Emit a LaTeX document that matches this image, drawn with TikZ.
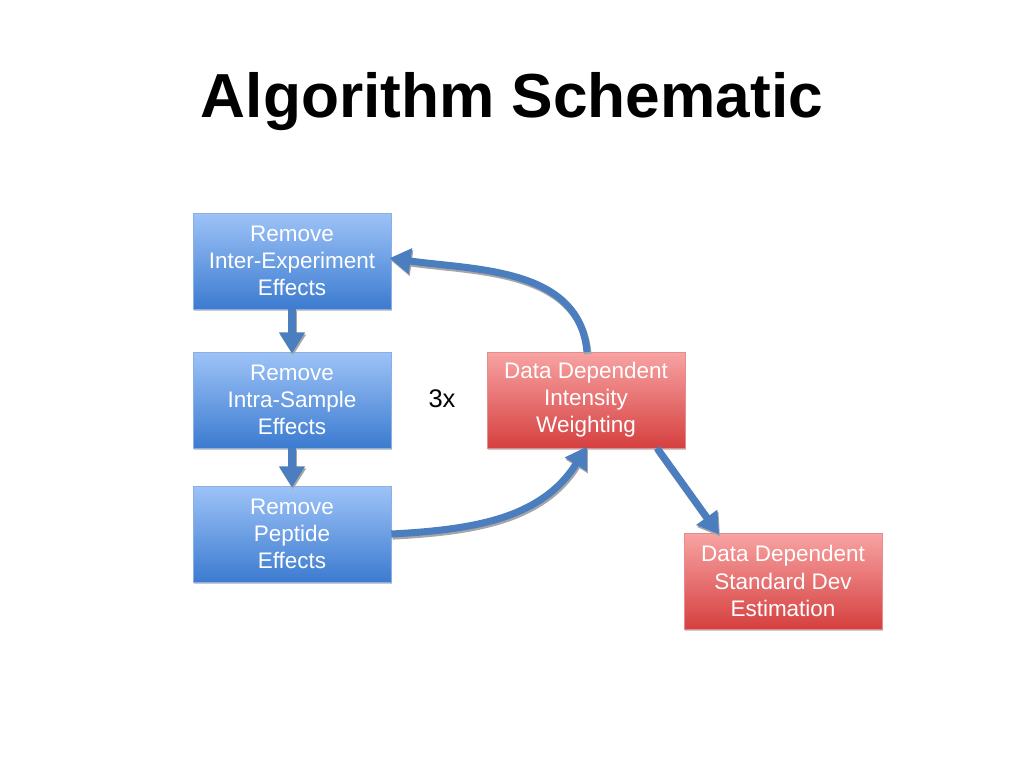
\documentclass[tikz,border=0pt]{standalone}
\usepackage{fontspec}
\setmainfont{Liberation Sans}
\usetikzlibrary{arrows.meta}
\usetikzlibrary{shadows}
\usepackage{xcolor}

\definecolor{bluetop}{HTML}{9DC3F7}
\definecolor{bluebot}{HTML}{3C7BD0}
\definecolor{redtop}{HTML}{F8A3A3}
\definecolor{redbot}{HTML}{D5403F}
\definecolor{arrowblue}{HTML}{4A7EBF}

\tikzset{
    stagebox/.style={draw=#1!60!white, line width=0.4pt, minimum width=3.96cm, minimum height=1.92cm,
        align=center, text=white, font=\fontsize{12.8}{15.4}\selectfont,
        drop shadow={shadow xshift=0.6pt, shadow yshift=-1.2pt, opacity=0.35, fill=black!60}},
    bluebox/.style={stagebox=bluebot, top color=bluetop, bottom color=bluebot},
    redbox/.style={stagebox=redbot, top color=redtop, bottom color=redbot},
    flow/.style={arrowblue, line width=4pt, -{Triangle[length=12pt,width=14pt]}, shorten >=-1pt,
        preaction={draw=black!35, line width=4pt, transform canvas={xshift=0.6pt,yshift=-1.2pt}, -{Triangle[length=12pt,width=14pt]}}}
}

\begin{document}
\begin{tikzpicture}[x=0.02cm,y=-0.02cm]
        \useasboundingbox (0,0) rectangle (1024,768);

        \node[font=\fontsize{35.4}{42}\selectfont\bfseries] (title) at (512,102) {Algorithm Schematic};

        \node[bluebox] (inter) at (292,261) {Remove\\Inter-Experiment\\Effects};
        \node[bluebox] (intra) at (292,400) {Remove\\Intra-Sample\\Effects};
        \node[bluebox] (pept) at (292,534) {Remove\\Peptide\\Effects};
        \node[redbox] (weight) at (586,400) {Data Dependent\\Intensity\\Weighting};
        \node[redbox] (stdev) at (783,581) {Data Dependent\\Standard Dev\\Estimation};

        \node[font=\fontsize{14.5}{17}\selectfont] (times) at (442,399) {3x};

        \coordinate (wtop) at (587,352);
        \coordinate (wbot) at (586,448);
        \coordinate (wcorner) at (657,448);
        \coordinate (sdtop) at (718,533);

        \draw[flow] (inter.south) -- (intra.north);
        \draw[flow] (intra.south) -- (pept.north);
        \draw[flow] (pept.east) to[out=3,in=-122] (wbot);
        \draw[flow] (wtop) to[out=95,in=-8] ([yshift=1.5pt]inter.east);
        \draw[flow] (wcorner) -- (sdtop);
    \end{tikzpicture}
\end{document}
